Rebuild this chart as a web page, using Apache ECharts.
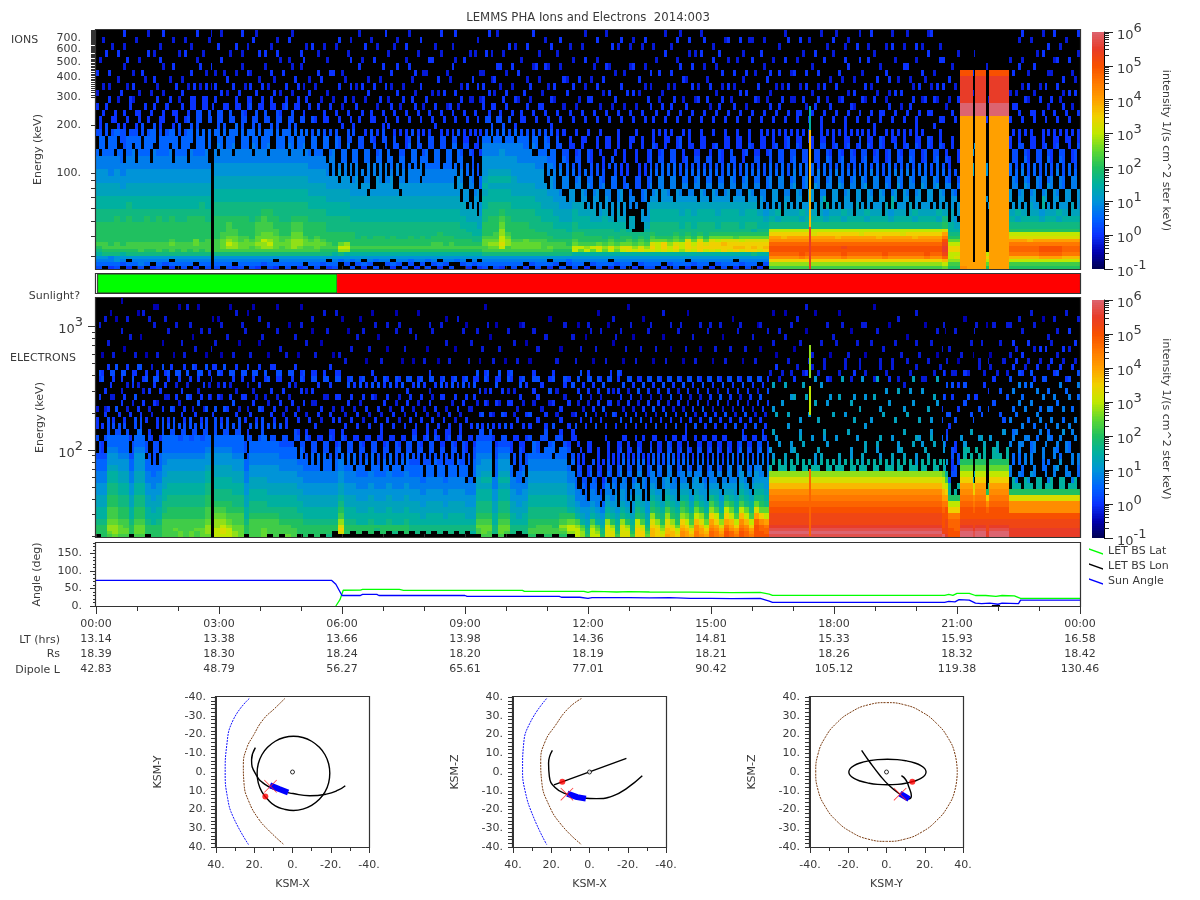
<!DOCTYPE html>
<html><head><meta charset="utf-8">
<style>html,body{margin:0;padding:0;background:#fff}#c{width:1200px;height:900px}</style>
<script src="https://cdn.jsdelivr.net/npm/echarts@6/dist/echarts.min.js"></script></head>
<body><div id="c"></div><script>
// Cell codes: '.' = empty, otherwise index in LEVELS; log10(intensity) = -1 + index/4. Strings run from low to high energy.
const LEVELS='0123456789abcdefghijklmnopqrs';
const ionsA=[
"5678abcdcccc cbbaa9988776.654 4.4.3..4.3....",".678bcddcccc cbbaa99887766.55 .44..3....4.3.","4677bcdccccc cbbaa9987776665. 4..4.3.4...3..","5688bcddcccc ccbaa9988776.664 44.3..3...4...",
".578acdccccc cbbaa988776.5554 .4..4...3..3.4","46.8bcddcccc ccbba9988776665. 4.44.3...4....",".678bcddcccc cbbaa998877.6654 .4.3.4.3....3.","5778bdddcccc cbbaa99887766.55 44..3..4.3....",
".678bcddcccc ccbaa9988776665. 4.4...3...4..3","4.78bcddcccc cbbaa998877.6665 .44.3.4...3...","5678bdddcccc ccbaa99887766.54 4..4.3...4.3..",".578bcddcccc cbbaa9988776665. 444.3...3....4",
"46.8bddedccc ccbaa998877.6664 .4.4..3.4...3.",".678bcddcccc cbbaa99887766.55 44.3.4....3...","5678bdddcccc cbbaa9988776665. 4.4.4.3...4.3.",".678bcddcccc ccbaa998877.6665 5444.3.4...3..",
"4.78bddeeccc ccbaa99887766.65 5544.4...3...4",".678bcddcccc ccbba9988776666. 5544.3..4.3...","5678bddddccc cbbaa998877.66.. 5544.4.3....3."];
const ionGap=["............ ................ 5.4..3..4....3"];
const ionsB=[
"5678bddddccc ccbbaa998877.665 55.4.4.3...4..",".678bdeeeddc ccbbaa9988776.65 554.4..3.4...3","5678bdfgfedd dcbbaa998877666. 554.3.4...3...","4.78bdffeedd ccbbaa998877.666 5.44.4.3...4..",
"5678bdeeddcc ccbbaa9988776.65 554.4...3.3..4",".678bdeeedcc ccbbaa998877666. 5444.3.4...3..","5678bddedccc cbbbaa998877.665 5.54.4.3....4.","4678bdefeedd dcbbaa9988776.65 554.4.3...4..3",
".578bdffgeed ddcbaa998877666. 5544.4..3.4...","5678bdfgfeed dccbaa998877.665 5.44.3.4...3..","46.8bdeeeedd ccbbaa9988776.65 554.4.3...4.3.",".678bddeddcc cbbbaa998877666. 544.3..4.3....",
"5678bdeeedcc cbbbaa998877.665 5.54.4...3..4.",".678bdfffeed dcbbaa9988776.65 554.3.4.3....3","4678bdeffeed dcbbaa998877666. 5.44.4..3.4...","5.78bddeedcc ccbbaa998877.66. 54.4.3...4.3..",
".678bddedccc cbbaa9988776.65. 5.4.4.3....4..","5678bdeeedcc cbbaa99887766.6. 4.4..3.4..3...",".578bcdedccc cbbaa9988776.65. 44.3..4....3..","46.8bcddcccb bbaa99887.76.65. 4.4.3..4.3....","5678acdccccb bbaa99887.7.6.5. .4.3...4...3.."];
const ionsC=[
"..68bfgecccb bbaa9988.76.5..4 4.3..4.3....4.",".578afgfcccb bbaa99887.6.65.. .4.4..3...3...","5.68acdccccb baa99887.76..5.4 4..3.4...4..3.",".578acdccbbb baa9988.7.6.5... 4.4..3..4....3",
"46.8acdcccbb baa99887..6.5.4. .4.3.4...3.4..",".578acdccbbb baa998.77.6..5.. 44..4.3.....3.","5.68acdcccbb baa9988.7.65.4.. 4.3..4...4.3..","..78acdcccbb baa99887.76..5.4 .4.4..3.4.....",
".578acdccbbb baa998877.6.5..4 4..3.4....3..4","46.8acdcccbb baa9988.76..5.4. .44..3.4...3..",".578acdccbbb baa998.77.65..4. 4.3.4...4...3.","5.78acdccbbb baa99887.6.54.4. .4.4.3...3.4..",
".568acdcccbb baa9988776.6.5.. 4..4..3.4....3","4.78acdccbbb baa9988776.65.4. .44.3..4..3...",".578acdcccbb baa99887.765..4. 4.3..4.3....4.","5.68acdccbbb baa99887766.5.4. .4.4...3.4....",
".578acddccbb baa99887766.5..4 4.4.3....4.3..","46.8acddcccb baa9988776.65.4. .4..3.4...3..4",".578acdcccbb baa99887766.5.4. 4.3.4..3......","5.78acddccbb baa9988776.6.54. .44...3.4..3..",
"..68acdccbbb baa9988.76.6.5.. 4.3.4....3...4",".578acdccbbb aa998.87.6.5.4.. .4.4.3...4....","46.8acdccbba a998.87.6..5.4.. 4..3.4....3..."];
const ionsD=[".578acdcbbaa a998.7.6.5.4..4. .4.3..4...3...","46.8acdcbbaa 998.8.6.5..4.4.. 4..3.4.3....3."];
const ionsE=["5678bddeedcc cbbaa9a98887765. 5.44.4.3..4...",".678bdefedcc ccbbaa9a988776.5 544.4.3...3..4","5678bdefeddc ccbbaa9a9887765. 5.4.3.4.4....3","4678bdghggff edcbaa9a988876.5 54.4.3..4.3...",".678bddffedc ccbbaa9a9887765. 5.4.4..3...4.."];
const ionsF=[
"5678bdeedccc cbbaa999888776.4 .4.4.3..4..3..",".678bdeedccc cbbaa9988877765. 44.3...4.3....","4.78bdeeeccc cbbaa9988877665. 4.4.4.3....4..",".578bdeedccc bbbaa9988877.65. .4.3.4..3....4","5678bdeedccb bbaa99888776.65. 4.4...3.4.3...",
".678bddddccb baa99988.7766.5. .44.3...4...3.","46.8bdedccbb baa9988.7766.5.4 4..4.3..3..4..",".578bcddcbbb aa99887.76.65.4. .4.3.4....3...","5.78bcddcbbb a99887.7.6.5..4. 4.3...4.3...4.",".568bcdccbba a9988.7.6.5.4... .4..4.3....3.."];
const ionsG=[
"5678aggedccb baa98.76.5.4..4. 4.3..4...3....",".678aegdcccb aa998.7.5.5.4... .4.3..4....3..","4.78agfdccbb aa98.7.6..5..4.. 4..4.3...4...3",".578aegdccbb a998.76.5.4..... .4.4..3.3.....","5678agheccbb a98.8.6.5..4.4.. 4.3..4...3..4.",
".678aefdcbbb aa98.7.5.4..4... .4..3.4.4....3","46.8aghedcbb a98.7.6..5..4... 4.3.4...3..4..",".578aefdcbba a9.87.6.5..4.4.. .4.4...3...3..","5678agheccbb a98.8.5.4.4..... 4.3..4.3....4.",".678ahhedcba 9..7.6..4...4... .4..4...3..3..",
"4.78agfdcbb. 9..7..5...4..4.. 4.3.4...4...3.",".578ahhedcb. .8..6.5.4...4... .4..3.4....3..","5678agfdcbba 988.7.5.4.4..... 4..4.3..3...4."];
const ionsH=[
"5678ahihedcb baa987.6.5.5.4.. 4.4..3.4...3..",".678agggecbb baa98.7.65.4..4. .4.3...4.3....","4.78ahiiecbb baa9887.6.5.4.4. 4.4.3.....4..3",".578aggfdcbb baa987.76.5..4.. .44..3.4...3..","5678ahihedcb baa98.7.6.5.4... 4..4.3...3..4.",
".678afggdcbb aa9987.65.4.5.4. .4.3..4.4....3","46.8ahiihdcb baa987.6.5..4.4. 4.4...3...3.4.",".578aghgecbb aa9987.6.5.4.... .4.3.4..4.3...","5678aiiihecb baa98.7.65.4.4.. 4..4.3....4..3",".678agihecbb baa987.6.5..4... .4.4..3.3...4.",
"4.78ahiihecb baa98.76.5.4..4. 4.3..4...4.3..",".578agiigecb aa9987.6.5.5.... .44.3...3.4...","5678aiijhecb baa987.65.4.4.4. 4..4.3.4....3.",".678ahiihecb baa98.7.6.5.4... .4.3.4...3..4.","46.8aijihdcb baa987.6.5..4.4. 4.4..3.4.3....",
".578ahjigecb aa9987.65.4.4... .4..4.3...3.4.","5678aiiihecb baa98.7.6..5.4.. 4.3.4..4....3.",".678bijiheca baa987.6.5.4.... .4.4...3.4..3.","4.78ahiihecb aa98.7.6.5.4.4.. 4..3.4....4...",".578aijihecb a987.76.5..4.4.. .4.3..4.3...3."];
const ionsI=[
"dfilnoonlkig ba98.87.6.5.4.4. 4.4.3..4.3....","dfilnoonlkig b9a8.87.65.5..4. .44..3.4...3..","dfilnoonljig ba9.87.76.5.4.4. 4..4.3...4...3","dfilnoonlkig ba98.7.65.5.5.4. .4.3.4.3....4.","dfilnoonlkig ba98.8.7.6.5.4.. 44.3...4.3....",
"dfimooonlkig b9a8.76.6.5.4.4. .4.4.3....3.4.","dfilnoonlkig ba988.7.6.5..4.. 4.3..4.4....3.","dfilnoonlkhg ba98.8.6.65.4... .44.3...3.4...","dfilnoonlkig ba9.87.7.5.5.4.4 4..4.3.4.....3","dfilnoonlkig b98a.7.6.6.5.4.. .4.3.4...4.3..",
"dfilnoonlkig ba98.87.65.4.4.. 4.4...3...3.4.","dfilnoonljig ba98.8.7.5.5..4. .4.3.4.4.....3","dfimoopnlkig b9a8.7.6.6.4.4.4 4..4..3..4.3..","dfilnoonlkig ba988.76.5.5.4.. .44.3...4...3.","dfilnoonlkig ba9.8.7.65.4..4. 4.3.4.3....4..",
"dfilnoonlkhg ba98.87.6.5.5.4. .4.4...3.4...3","dfilnoonlkig b9a8.8.6.6.5.4.. 4..3.4...4.3..","dfilnoonlkig ba98.7.7.5.4.4.4 .4.4.3....3..4","dfilnoonljig ba988.7.6.5.5... 44..3.4.3.....","dfimooonlkig ba9.87.65.4.4.4. .4.3...4...3..",
"dfilnoonlkig b98a.76.6.5..4.. 4.4.3.4....4.3","dfilnoonlkig ba98.8.7.5.5.4.. .4..4.3..3....","dfilnoonlkhg ba988.6.65.4.4.. 4.3.4...4..3..","dfilnoonlkig ba9.87.7.6.5..4. .44...3.4....3","dfilnoonljig b9a8.7.6.5.5.4.4 4..4.3...3.4..",
"dfilnoonlkig ba98.8.76.4.4.4. .4.3.4.4...3..","dfimooonlkig ba988.7.6.5.5.... 4.4..3...4..3","dfilnoonlkig ba98.87.5.5.4..4 .4.4.3.3.....4","dfilnoonlkig b9a8.8.6.6.5.4.. 4..3.4...4.3.."];
const ionsJ=["egjnpqqpomkh cb98.7.6.5.4.... 4.3..4...4...."];
const ionsK=["cdfggiigecba a9.8.7.5.4..4... .4.3..4.3.....","cdfhgiigecba 98.8.6.5..4..... 4..4.3....3..."];
const ionBarA=["lkkkkkkkkkkk kkkkkkkkkkkkkkkk kssqqqqo......","kkkkkkkkkkkk kkkkkkkkkkkkkkkk kssqqqqo......"];
const ionSlitA=["kk.......... ........9..8.... ....3..4..3..."];
const ionBarB=["kkkkkkkkkkkk kkkkkkkkkkkkkkkk kssqqqqo......","kkkkkkkkkkkk kkkkkkkkkkkkkkkk kssqqqqo......"];
const ionSlitB=["cegig....... ...8....8....... 4..3....3....."];
const ionBarC=["kkkkkkkkkkkk kkkkkkkkkkkkkkkk kssqqqqo......","kkkkkkkkkkkk kkkkkkkkkkkkkkkk kssqqqqo......","kkkkkkkkkkkk kkkkkkkkkkkkkkkk kssqqqqo......"];
const ionsL=[
"cdgjmnnmkhgc ba98.87.6.5.4.4. 4.4.3..4.3....","cdgjmnnmkhgc b9a8.7.6.5.5.4.. .44.3...4...3.","cdgjmnnmkhgc ba98.8.7.6.5..4. 4..4.3...3...4","cdgjmnnmjhgc ba9.87.65.4.4.4. .4.3.4.3....3.","cdgjmnnmkhgc ba988.7.6.5.4... 44..3...4.3...","cdgknoomkhgc b98a.76.5.5.4.4. .4.4.3....4..3",
"cdgknoomkhgc ba98.8.6.6.5..4. 4.3..4.3...4..","cdgknoomkhgc ba98.87.5.4.4.4. .4.4...3.3...4","cdgknoomkhgc b9a8.7.7.6.5.4.. 4..3.4...4.3..","cdgjmnnmkhgc ba988.6.5.5..4.. .44.3.4.....3.","cdgjmnnmkhgc ba9.8.7.6.4.4.4. 4.3.4..3.4....","cdgjmnnmkhgc ba98.87.65.5.4.. .4..4.3...3..4"];
const ionZones=[[0,2.8,ionsA],[2.8,2.88,ionGap],[2.88,5.9,ionsB],[5.9,9.17,ionsC],[9.17,9.41,ionsD],[9.41,10.12,ionsE],[10.12,11.6,ionsF],[11.6,13.5,ionsG],[13.5,16.42,ionsH],[16.42,20.63,ionsI],[20.63,20.78,ionsJ],[20.78,21.07,ionsK],[21.07,21.4,ionBarA],[21.4,21.44,ionSlitA],[21.44,21.71,ionBarB],[21.71,21.78,ionSlitB],[21.78,22.27,ionBarC],[22.27,24,ionsL]];
// [hour from, hour to, keV from, keV to, level]
const ionSpikes=[[17.4,17.44,25,46,'q'],[17.4,17.44,46,186,'j'],[17.4,17.44,186,265,'a']];

const elecA=[
".ccc baa9988776655.5.4 4.3.4..45. ......3....","cccc baa9988776654.5.4 .43..4.54. .2.....3...","deff eddccbbaa98876655 5.4.3.4.54 ...3....2..","efff eddccbbaa98876655 4.5.3..455 .3.....2...",
"deee dccbbaa9988766655 .4.4.3.45. .....3....2","deed dccbbaa9988766655 4.3.4.3.54 ..2....3...",".ccc baa9988776655.4.. .4.3..454. ....3......","deee dccbbaa9988876665 5.4.5.3.45 .3......2..",
"deee dccbbaa9988876665 54.4.3.4.5 ....2...3..",".ccc baa998877665.5.4. 4.3..4.54. .2.....3...","cccc aa998877665.5.4.. .3.4..45.3 ......3..2.","cccc baa99887766.5.4.4 4..3.4.54. .3.......2.",
"dddd dcbbaa99887766655 5.4.3.4.45 ...2...3...","dddd dccbbaa9988766655 4.5.3..454 .....3.....","dded dccbbaa9988766655 5.4.4.3.5. .2....3....","eedd dccbbaa9988766555 .4.3.4.45. ...3.....2.",
"dddd dccbbaa9988766655 4.4.5.3.54 .3.......3.","eedd dccbbaa9988766555 5.3.4..4.5 ....2.3....","dded dccbbaa9988766655 .4.5.3.454 ..3......2.","eeed dccbbaa9988766555 4.3.4.4.5. .....3.....","efff eddccbbaa98876655 5.5.4.3.45 .2...3....."];
const elecGap=[".... ................. .4..3..4.4 ..3....2..."];
const elecB=[
"gggf fedcbbaa998876655 5.5.4.3.54 ...3...2...","ghhg fedcbbaa998876655 4.5.3.4.45 .2....3....","gggf edccbbaa998876655 5.4.4.3.5. ....3....2.","ffee ddcbbaa9988766655 .4.5.3.454 .3......3..","eeee ddcbbaa9988766655 5.3.4..45. ...2..3....",
".ccc baa998877665.5.4. 4.3.4.3.54 .....3..2..","dddd dcbbaa998877665.5 .4.4.3.45. .3.......2.","dddd dcbbaa998877665.5 4.5.3.4.54 ...2...3...","eeed dcbbaa99887766655 5.4.3..45. ....3......",".ddd dcbaa9988877665.5 .4.3.4.5.4 .2....3....",
"dddd dcbaa9988877665.5 4.4.3..454 .....3...2.",".ddd cbbaa9988776655.5 .3.4.4.45. ..3........","eddd cbbaa9988776655.4 4.3.3.4.5. .3....2....","dddc cbbaa998877665.5. .4.4..3454 ....3......",".ccc cbaa99887766.5.4. 4.3..4.54. .2....3..2.",
"cccc baa998877665.5.4. .3.4.3.45. ...3.......",".ccc baa99887766.5.4.. 4..3.4.54. .....2.3...","cccc baa99887766.5.4.4 .4.3..454. .3.........",".ccc baa9988776.65.4.. 3.4.3..54. ...2....3..","bccc baa998877665.5.4. .4..3.45.4 .....3.....","..cc baa9988776.5.4.4. 4.3.4..54. .2......3.."];
const elecBlob=[".hih fdcba9988776.5.4. 4.3.4..54. .3.....2..."];
const elecC=[
".ccc baa99887766.5.4. 4.3.4..54. .3....2....","..cc baa9988776.65.4. .4.3.4.45. ...3.......",".ccc aa998877665.5.4. 4.4.3..54. .....3..2..","..cc aa99887766.5.4.. .3.4.4.45. .2....3....",".ccc baa9988776.65.4. 4.3..4.5.4 ...3.....2.",
"..bc aa998877665.5.4. .4.4.3.54. .....2.3...",".ccc aa99887766.5.4.4 4.3.4..45. .3.........","..cc baa9988776.65.4. .4.3.4.54. ...2...3...",".bcc aa998877665.5.4. 4.4.3..45. ......3..2.","..cc aa99887766.5.4.. .3.4.3.54. .2.....3..."];
const elecD=[
".ccc baa99887766.5.4. 4.3.4.4.5. ...3.......","..bb aa9988776655.5.4 .4.3.4.45. .2....3....",".bbb aa9988776655.5.4 4.4.3..54. .....3...2.","..bb a99887766.55.4.. .4.3.4.45. .3.........",".bbb aa9988776655.5.4 4.3.4.3.54 ...2...3...",
"..bb aa9988776.65.5.4 .4.4.3.45. ......3....",".bbb aa9988776655.4.. 4.3..4.54. .2.....3...","..bb a99887766.55.4.4 .4.3.4.45. ....3...2..",".bbb aa9988776655.5.4 4.4.3..54. .3.........","..bb aa9988776.65.4.. .3.4.4.45. ...2....3..",
".bbb aa9988776655.5.4 4.3.4..54. ......3....","..bb a9988776.65.4.4. .4.3.4.45. .3.....2...",".abb a9988776.6.5.4.. 4..3.4.54. ....3......"];
const elecE=[".dde dcbbaa9988776655 5.4.3.4.45 .2....3....","deee dcbbaa9a98876655 4.5.4.3.54 ...3......2","ddee dcbbaa9a98876655 5.4.3.4.45 .....2.3..."];
const elecF=[".bbb aa9988776.65.4.. 4.3.4..54. .3.....2..."];
const elecG=["deee dcbbaa9a9887655. 4.5.3.4.45 ...3.......",".dee dcbbaa9a9887655. 5.4.4.3.54 .2....3...."];
const elecH=[".bbb aa9988776.5.4.4. 4.3.4.3.45 ....3......","..bb a998877665.5.4.. .4.3.4.54. .3.....2...",".bbb aa998877.65.4.4. 4.4.3..45. ....2..3..."];
const elecI=[
"cddc cbbaa99887766.5. 4.5.3.4.54 .2....3....",".ddd cbbaa99887765.5. .4.3.4.45. ...3.......","cddd cbbaa998877665.5 4.4.3.5.4. .....3..2..",".ddc cbbaa9988776.65. 5.3.4.3.54 .3.........","cdef dcbaa998877665.4 .4.4.3.45. ...2...3...",".fgg eca9988776.5.4.4 4.3.4..54. .....3....."];
const elecSaw=[
"gggf da98776.5.4..4.. 5.4.3.4.5. .3.....2...","ffed a98776.5.4.4.... .4.3.5.4.5 ...3.......","cbba 98876.5.4...4... 4.5.3.4.54 .....2.3...",
"gggf da987766.5..4... .4.4.3.45. .2....3....","gfed a98776.5.4.4.... 5.3.4.4.5. ...3.....2.","cbba 9876.5.4.4...... .4.5.3.54. ......3....",
"hhhh fba98776.5.4.4.. 4.3.4.4.5. .3.....2...","hhgf ca9877.65.4...... .5.4.3.54. ...2...3...","dcbb a988.76.5.4.4... 4.4.3.4.45 .....3.....",
"hhhh fba98877.6.5.4.. .5.3.4.5.4 .2....3....","hhgf ca987.76.5.4.4.. 4.4.4.3.5. ...3......2","dcbb a98.87.6.5.4.... .5.3.4.45. .....2.3...",
"iiih gcba9887.6.5.4.. 4.4.3.5.4. .3.........","iihg dba98.77.6.4.4.. .5.4.3.54. ...3....2..","edcb a9887.6.5.4..... 4.3.4.4.5. ......3....",
"jjji hfcba98776.5.4.. .4.5.3.45. .2.....3...","iiih fcba987.6.5.4.4. 5.3.4.4.5. ...3.......","hgfe cba98.7.6.5.4... .4.4.3.54. .....2...3.",
"kjji hfdba9887.6.5.4. 4.5.3.4.5. .3.........","jjih fcba9877.6.5.4.. .4.3.5.45. ...2...3...","ihge cba98.76.5.4.4.. 5.4.4.3.5. ......3....",
"llkj ifdca98776.5.4.. .4.3.4.54. .2.....3...","kkji gecba987.6.5.4.4 4.5.3.4.5. ...3.....2.","jihf dca988.7.5.4.... .4.4.3.45. .....3.....",
"mmll jgeca98876.5.4.. 5.3.4.4.5. .3.........","lkkj hfca9887.6.5.4.. .4.5.3.54. ...2...3...","kjig eca98.76.5.4.4.. 4.4.3.4.5. ......3....",
"nnml kifdb98776.5.4.. .5.3.4.45. .2.....3...","mmlk igdba987.6.5.4.. 4.4.4.3.5. ...3.......","lkjh fca988.7.5.4.4.. .4.3.5.54. .....2.3...",
"oonm kigdb987.6.5.4.. 4.5.3.4.5. .3.........","nnlk jgeca9877.6.4... .4.3.4.45. ...3....2..","mlki gdba98.76.5.4... 5.3.4.4.5. ......3....",
"oonm ljgdba9887.6.5.4 .4.4.3.54. .2.....3...","nnml jgeba987.6.5.4.. 4.5.3.4.5. ...3.......","mlki gdba98.7.6.5.4.. .4.3.4.45. .....3.....",
"oooo nkheba98876.5.4. 5.3.4.3.5. .3.....2...","oonn liecba9877.6.5.4 .4.4.5.45. ...2...3...","onnm kgeba9887.6.5.4. 4.3.4.5.4. ......3...."];
const elecJ=[
"rsrq pponmljhfa.8...9. ..8...9.3. ...3....2..","rsrq pponmljhfa...8... .9.....3.4 .2...3.....","rsrq pponmljhfa9...... ...8..9.3. ....3...2..","rsrq pponmljhfa..8...8 .9..8...3. 3.....3....","rsrq pponmljhfa.9..... ....9..4.3 ..2....3...",
"rsrq pponmljhfa...9.8. 8.....9.3. ...3.......","rsrq pponmljhfa....... .8..9...4. 3....2...3.","rsrq pponmljhfa8...8.. ...9...8.3 .3......2..","rsrq pponmljhfa.9..... 9.....8.3. ...3.......","rsrq pponmljhfa...8.9. ...8...4.3 3.....3....",
"rsrq pponmljhfa....... .9..8..3.. .2..3......","rsrq pponmljhfa9...8.. ....9...3. ...3....2..","rsrq pponmljhfa....... .8.....9.3 3.....3....","rsrq pponmljhfa.8...9. ...9...3.. .3...2.....","rsrq pponmljhfa....8.. 9...8...4. ...3.......",
"rsrq pponmljhfa9...... ..9....8.3 3.....3....","rsrq pponmljhfa..9...8 ....8...3. .2....3....","rsrq pponmljhfa....... 8...9..3.. ...3.....2.","rsrq pponmljhfa.8.9... ..8....9.3 3....3.....","rsrq pponmljhfa....... .9...8..3. ..3........",
"rsrq pponmljhfa9...8.. ...8...4.3 3.....2....","rsrq pponmljhfa..8.... 9....9.3.. ...3...3...","rsrq pponmljhfa.9...9. ..8...3... .3.........","rsrq pponmljhfa....... .9...8..3. 3...2......","rsrq pponmljhfa8..9... ...8...9.3 ...3....3..",
"rsrq pponmljhfa...8... 9....8.3.. .3.........","rsrq pponmljhfa.9..... ..9....3.. 3.....2....","rsrq pponmljhfa...9.8. 8...9...3. ...3.......","rsrq pponmljhfa....... ...8...9.3 .2...3....."];
const elecK=["sppo oonmkjhgea..8.6.. 5.4.5...4. ..3...3....","qppp poomkigda8...5.4. .5..4.5.3. 3....2....."];
const elecL=["ooon nmigca.5.4.5.... 4.5..4.5.3 ...3.......","oonn nmigca..5.5.4... .5.4...4.3 .2....3...."];
const elecBarA=["ssrq poonmlkigeca.8... ...5..5.4. .3.....2...","ssrq poonmlkigeca...9. .5..5...3. ...3......."];
const elecSlitA=["rrqp ponmlih9......... 5...4..... .2...3....."];
const elecBarB=["ssrq poonmlkigeca..8.. ..5.4....3 3.....3....","ssrq poonmlkigeca.9... .5....4.3. ...3......."];
const elecSlitB=["qqpp ponlic.......... ...5..4... .3.....2..."];
const elecBarC=["ssrq poonmlkigeca..8.. ...5...4.3 .2....3....","ssrq poonmlkigeca9.... .5...5..3. ...3.......","ssrq poonmlkigeca...8. 5...5...3. 3.....3...."];
const elecM=[
"qqqp pollhca.7.6..7.6 .7.6..7.5. 4.3.4..3...","qqqp pollhca7..6.7..7 ..6.7..7.5 .4.3....3..","qqqp pollhca.6.7..7.. 7..7.6.6.4 3.4...3....","qqqp pollhca8..7.6.7. .6..7..6.5 .3..4....3.","qqqp pollhca.7...7.6. 6.7...7.4. 4..3...3...","qqqp pollhca..6.7...7 .7.6.7..5. .3.4....2..",
"qqqp pollhca7.6...7.6 6..7..6.5. 3..4.3.....","qqqp pollhca.7..7..6. .7.6.7...4 .4..3...3..","qqqp pollhca..8.6.7.. 7...6..7.5 4.3...3....","qqqp pollhca.7...7..8 .6.7..6.4. .3.4.....3.","qqqp pollhca7..7.6..7 7..6.7..5. 4..3..4....","qqqp pollhca.6.7...7. .7...6.7.5 .3..4...3.."];
const elecZones=[[0,2.8,elecA],[2.8,2.88,elecGap],[2.88,5.9,elecB],[5.9,6.05,elecBlob],[6.05,7.5,elecC],[7.5,9.27,elecD],[9.27,9.66,elecE],[9.66,9.8,elecF],[9.8,10.1,elecG],[10.1,10.54,elecH],[10.54,11.68,elecI],[11.68,16.42,elecSaw],[16.42,20.63,elecJ],[20.63,20.78,elecK],[20.78,21.07,elecL],[21.07,21.4,elecBarA],[21.4,21.44,elecSlitA],[21.44,21.71,elecBarB],[21.71,21.78,elecSlitB],[21.78,22.27,elecBarC],[22.27,24,elecM]];
const elecSpikes=[[17.4,17.44,20,70,'n'],[17.4,17.44,192,330,'g'],[17.4,17.44,380,710,'f']];

const sunlightEdges=[0,0.04,5.88,24];
const sunlightStates=['none','day','night'];

const hourLabels=['00:00','03:00','06:00','09:00','12:00','15:00','18:00','21:00','00:00'];
const ltHours=['13.14','13.38','13.66','13.98','14.36','14.81','15.33','15.93','16.58'];
const rsValues=['18.39','18.30','18.24','18.20','18.19','18.21','18.26','18.32','18.42'];
const dipoleL=['42.83','48.79','56.27','65.61','77.01','90.42','105.12','119.38','130.46'];

const latAngle=[[5.85,0],[5.95,18],[6.03,45],[6.45,45.5],[6.5,47.5],[7.4,47.5],[7.5,44.8],[10.4,44.8],[10.45,42],[11.9,42],[12,39],[12.1,42],[12.4,41],[12.7,40],[13,41],[13.5,40],[14.5,39.5],[15,39],[15.5,38.5],[16.2,39],[16.42,34],[16.5,30.5],[20.7,30.5],[20.8,33],[20.9,30.5],[21.0,36],[21.3,36],[21.45,30],[21.7,30],[21.95,27.6],[22.1,30],[22.4,29],[22.55,22],[24,22]];
const lonAngle=[[21.85,1],[22.05,1]];
const sunAngle=[[0,73],[5.75,73],[5.85,62],[6.0,30],[6.45,30],[6.5,33],[6.85,33],[6.9,30],[9,30],[9.05,27.6],[11.3,27.6],[11.35,25],[11.8,25],[12,22],[12.1,24],[13,24],[13.5,23],[14,24],[14.5,22],[15,22],[15.5,21],[16.2,22],[16.42,14],[16.5,10.5],[20.7,10.5],[20.8,13],[20.95,12],[21.05,18],[21.3,17],[21.45,8],[21.6,6.7],[21.8,8],[22,5],[22.1,8],[22.5,7],[22.55,17],[24,17]];

const xyBow=[[22.6,-39.2],[30.9,-28],[34.4,-14],[35.2,0],[34,13.5],[31,24],[23,38.7]];
const xyPause=[[4,-39.2],[9.2,-34],[15.3,-28],[20.5,-19.4],[24,-12.5],[25.7,-3.8],[25.3,6.6],[23,15.3],[17.9,24.8],[11.8,31.8],[4.5,38.7]];
const xyOrbit=[[18.5,.7],[17.9,5.8],[16,10.6],[12.9,14.7],[9,18.1],[4.4,19.8],[-.5,20.5],[-5.4,19.8],[-10,17.8],[-13.9,14.7],[-17,10.6],[-18.9,5.8],[-19.5,.7],[-18.9,-4.4],[-17,-9.2],[-13.9,-13.3],[-10,-16.4],[-5.4,-18.4],[-.5,-19.1],[4.4,-18.4],[9,-16.4],[12.9,-13.3],[16,-9.2],[17.9,-4.4],[18.5,.7]];
const xyTrack=[[19.4,-13],[21.4,-6.4],[19.6,.5],[14.4,6.6],[7.5,9.7],[-.3,11.5],[-9,12.7],[-17.7,11.8],[-23.8,9.7],[-27.6,7.3]];
const xyToday=[[11.8,7.1],[7,9.1],[2.3,10.9]];
const xyCross=[[11.5,7.6]], xyDot=[[14.2,13]];
const xzBow=[[22.4,39.2],[31,26.4],[34.5,14.2],[35,2],[33.7,-10],[29.3,-24],[22.4,-38.7]];
const xzPause=[[4.2,39.2],[11,34],[18,24.6],[23.3,16],[25.5,5.6],[25,-4.9],[21.5,-17],[14.6,-28.3],[4.2,-38.7]];
const xzOrbit=[[-19.3,7.3],[18.6,-6.9]];
const xzTrack=[[19.4,11.5],[21.4,4.7],[21,-2.3],[18,-8.3],[12,-11.8],[3.3,-13.9],[-3.6,-14.2],[-12.3,-12.7],[-20,-8.3],[-27.6,-2]];
const xzToday=[[11.6,-11.5],[6.5,-13.4],[1.9,-14.2]];
const xzCross=[[11.8,-11.8]], xzDot=[[14.2,-5.2]];
const yzPause=[[37,0],[35.8,9.6],[32,18.5],[26.1,26],[18.5,32],[9.6,35.8],[0,37],[-9.6,35.8],[-18.5,32],[-26.2,26],[-32,18.5],[-35.8,9.6],[-37,0],[-35.8,-9.6],[-32,-18.5],[-26.2,-26],[-18.5,-32],[-9.6,-35.8],[0,-37],[9.6,-35.8],[18.5,-32],[26.1,-26],[32,-18.5],[35.8,-9.6],[37,0]];
const yzOrbit=[[20.7,0],[20,1.8],[18,3.4],[14.8,4.8],[10.6,5.9],[5.7,6.6],[.5,6.8],[-4.7,6.6],[-9.6,5.9],[-13.8,4.8],[-17,3.4],[-19,1.8],[-19.7,0],[-19,-1.8],[-17,-3.4],[-13.8,-4.8],[-9.6,-5.9],[-4.7,-6.6],[.5,-6.8],[5.7,-6.6],[10.6,-5.9],[14.8,-4.8],[18,-3.4],[20,-1.8],[20.7,0]];
const yzTrack=[[-13,11.5],[-8.7,5.2],[-3.5,-1.7],[1.7,-7.5],[7,-11.8],[11.3,-14.4],[13,-12.7],[11.8,-8.3],[10,-4],[7.8,-1.9]];
const yzToday=[[7,-11.5],[9.5,-13],[11.8,-14.4]];
const yzCross=[[7.1,-11.8]], yzDot=[[13.5,-5.2]];
const origin=[[0,0]];

const FONT='"DejaVu Sans"', INK='#3a3a3a';
const STOPS=[[-1,[0,0,80]],[-.5,[0,0,176]],[0,[10,50,255]],[.5,[0,100,255]],[1,[0,148,216]],[1.5,[0,176,160]],[2,[32,192,96]],[2.5,[96,216,48]],[3,[192,232,0]],[3.5,[240,208,0]],[4,[255,160,0]],[4.5,[255,120,0]],[5,[248,80,0]],[5.5,[232,60,40]],[6,[220,100,112]]];
function logColor(v){
  for(let i=1;i<STOPS.length;i++){ if(v<=STOPS[i][0]){const a=STOPS[i-1],b=STOPS[i],t=(v-a[0])/(b[0]-a[0]);
    return 'rgb('+a[1].map((c,k)=>Math.round(c+(b[1][k]-c)*t)).join(',')+')';}}
  return 'rgb(220,100,112)';
}
const codeLog=ch=>-1+LEVELS.indexOf(ch)/4;

// energy bin edges in log10(keV)
function edges(bottom,fine,fineStep,coarse,coarseStep){const e=[bottom];for(let i=0;i<fine;i++)e.push(e[e.length-1]+fineStep);for(let i=0;i<coarse;i++)e.push(e[e.length-1]+coarseStep);return e;}
const ionEdges=edges(1.396,12,.02096,30,.0417);
const elecEdges=edges(1.295,4,.0243,38,.0484);
// Sparse counts occupy half a time bin so that they read as the thin dashes of the original.
function cells(zones,edge,spikes,base,thin){
  const out=[];let col=0;
  zones.forEach(([from,to,cols])=>{const w=(to-from)/cols.length;
    cols.forEach((txt,i)=>{const s=txt.replace(/ /g,'');col++;
      const t0=from+i*w,t1=t0+w;
      for(let r=0;r<s.length&&r<edge.length-1;r++){
        const ch=s[r],below=s[r-1],above=s[r+1],g=Math.floor(r/2);
        const half=((col*(g%3+1)+g)%2)*w/2;
        if(ch==='.'){
          if(r>=base&&r<thin&&below&&below!=='.') out.push([t0+half,t0+half+w/2,edge[r],edge[r+1],codeLog(below)]);
          continue;
        }
        const v=codeLog(ch);
        const narrow=v<1.75&&(r>=thin||(r>=base&&(below==='.'||above==='.')));
        if(narrow) out.push([t0+half,t0+half+w/2,edge[r],edge[r+1],v]);
        else out.push([t0,t1,edge[r],edge[r+1],v]);
      }});});
  spikes.forEach(p=>out.push([p[0],p[1],Math.log10(p[2]),Math.log10(p[3]),codeLog(p[4])]));
  return out;
}
function renderCell(params,api){
  const a=api.coord([api.value(0),api.value(2)]),b=api.coord([api.value(1),api.value(3)]);
  const x=Math.round(a[0]),y=Math.round(b[1]);
  return {type:'rect',silent:true,shape:{x,y,width:Math.max(1,Math.round(b[0])-x),height:Math.max(1,Math.round(a[1])-y)},style:{fill:logColor(api.value(4))}};
}
const grid=[],xAxis=[],yAxis=[],series=[];
const txt={color:INK,fontFamily:FONT,fontSize:11};
const sup=(b,e)=>`{b|${b}}{s|${e}}`;
const rich={b:{fontFamily:FONT,fontSize:13,color:INK,lineHeight:20,verticalAlign:'bottom'},s:{fontFamily:FONT,fontSize:13,color:INK,lineHeight:20,verticalAlign:'top'}};
const offZero={show:false,onZero:false};
const lineOn=c=>({show:true,onZero:false,lineStyle:{color:c}});
function addGrid(g){grid.push(Object.assign({containLabel:false},g));return grid.length-1;}
function hoursAxis(gi){xAxis.push({type:'value',gridIndex:gi,min:0,max:24,interval:1,axisLine:offZero,axisLabel:{show:false},splitLine:{show:false},axisTick:{inside:true,length:3,lineStyle:{color:'#333'}}});return xAxis.length-1;}
function yAx(o){yAxis.push(Object.assign({type:'value',position:'left',splitLine:{show:false},axisLine:offZero},o));return yAxis.length-1;}
function cellSeries(xi,yi,data){series.push({type:'custom',xAxisIndex:xi,yAxisIndex:yi,data,renderItem:renderCell,encode:{x:[0,1],y:[2,3]},progressive:0,animation:false,clip:true,silent:true});}
const tenTo=(from,to,step)=>{const o=[];for(let k=from;k<=to;k+=step)o.push(Math.log10(k));return o;};
const allLabels={hideOverlap:false,showMinLabel:true,showMaxLabel:true};

// ions
let g=addGrid({left:96,top:30,width:984,height:239,show:true,backgroundColor:'#000',borderWidth:0});
let xi=hoursAxis(g);
const ionTop=ionEdges[ionEdges.length-1];
let yi=yAx({gridIndex:g,min:ionEdges[0],max:ionTop,name:'Energy (keV)',nameLocation:'middle',nameGap:52,nameTextStyle:txt,
  axisTick:{length:5,lineStyle:{color:'#333'},customValues:[...tenTo(30,100,10),Math.log10(200),...tenTo(300,790,10)]},
  axisLabel:Object.assign({},txt,allLabels,{margin:15,customValues:[...tenTo(100,700,100),ionTop],formatter:v=>v===ionTop?'':Math.round(Math.pow(10,v))+'.'})});
cellSeries(xi,yi,cells(ionZones,ionEdges,ionSpikes,12,27));

// sunlight
g=addGrid({left:96,top:274,width:984,height:19,show:true,backgroundColor:'#fff',borderWidth:0});
xi=hoursAxis(g);
yi=yAx({gridIndex:g,min:0,max:1,show:false});
const sunColor={none:'#ffffff',day:'#00ff00',night:'#ff0000'};
series.push({type:'custom',xAxisIndex:xi,yAxisIndex:yi,animation:false,silent:true,encode:{x:[0,1]},
  data:sunlightStates.map((s,i)=>[sunlightEdges[i],sunlightEdges[i+1],i]),
  renderItem:(p,api)=>{const a=api.coord([api.value(0),0]),b=api.coord([api.value(1),1]);
    return {type:'rect',shape:{x:a[0],y:b[1],width:b[0]-a[0],height:a[1]-b[1]},style:{fill:sunColor[sunlightStates[api.value(2)]],stroke:api.value(2)===1?'#333':null,lineWidth:1}};}});

// electrons
g=addGrid({left:96,top:298,width:984,height:239,show:true,backgroundColor:'#000',borderWidth:0});
xi=hoursAxis(g);
const eMin=elecEdges[0],eMax=elecEdges[elecEdges.length-1];
yi=yAx({gridIndex:g,min:eMin,max:eMax,name:'Energy (keV)',nameLocation:'middle',nameGap:50,nameTextStyle:txt,
  axisTick:{length:8,lineStyle:{color:'#333'},customValues:[2,3]},
  axisLabel:Object.assign({},allLabels,{margin:13,customValues:[2,3],formatter:v=>sup('10',Math.round(v)),rich})});
yAx({gridIndex:g,min:eMin,max:eMax,axisLabel:{show:false},axisTick:{length:4,lineStyle:{color:'#333'},customValues:[...tenTo(20,90,10),...tenTo(200,900,100)]}});
cellSeries(xi,yi,cells(elecZones,elecEdges,elecSpikes,4,19));

// angles
g=addGrid({left:96,top:543,width:984,height:63,show:true,backgroundColor:'#fff',borderWidth:0});
xAxis.push({type:'value',gridIndex:g,min:0,max:24,interval:3,splitLine:{show:false},axisLine:lineOn('#333'),
  axisTick:{length:8,lineStyle:{color:'#333'}},minorTick:{show:true,splitNumber:3,length:5,lineStyle:{color:'#333'}},minorSplitLine:{show:false},
  axisLabel:Object.assign({},txt,allLabels,{margin:11,lineHeight:15,formatter:v=>{const i=Math.round(v/3);return [hourLabels[i],ltHours[i],rsValues[i],dipoleL[i]].join('\n');}})});
xi=xAxis.length-1;
yi=yAx({gridIndex:g,min:0,max:180,name:'Angle (deg)',nameLocation:'middle',nameGap:53,nameTextStyle:txt,
  axisTick:{length:6,lineStyle:{color:'#333'},customValues:[0,50,100,150]},
  axisLabel:Object.assign({},txt,allLabels,{margin:14,customValues:[0,50,100,150],formatter:v=>v+'.'})});
yAx({gridIndex:g,min:0,max:180,axisLabel:{show:false},axisTick:{length:3,lineStyle:{color:'#333'},customValues:[10,20,30,40,60,70,80,90,110,120,130,140,160,170,180]}});
[['LET BS Lat',latAngle,'#00ff00'],['LET BS Lon',lonAngle,'#000000'],['Sun Angle',sunAngle,'#0000ff']].forEach(([name,data,color])=>{
  series.push({type:'line',name,xAxisIndex:xi,yAxisIndex:yi,data,symbol:'none',itemStyle:{color},lineStyle:{color,width:1.3},animation:false,silent:true,clip:true});});

// colour bars
const rampStep=.05, ramp=[];for(let k=0;k<140;k++)ramp.push(-1+k*rampStep);
function colourBar(top,height){
  const gi=addGrid({left:1092,top,width:12,height,show:false});
  xAxis.push({type:'value',gridIndex:gi,min:0,max:1,show:false,axisLine:offZero});const xx=xAxis.length-1;
  const minors=[];for(let d=-1;d<6;d++)for(let k=2;k<10;k++)minors.push(d+Math.log10(k));
  const yy=yAx({gridIndex:gi,position:'right',min:-1,max:6,name:'intensity 1/(s cm^2 ster keV)',nameLocation:'middle',nameRotate:-90,nameGap:56,nameTextStyle:txt,
    axisLine:lineOn('#000'),axisTick:{length:9,lineStyle:{color:'#222'},customValues:[-1,0,1,2,3,4,5,6]},
    axisLabel:Object.assign({},allLabels,{margin:13,customValues:[-1,0,1,2,3,4,5,6],formatter:v=>sup('10',Math.round(v)),rich})});
  yAx({gridIndex:gi,position:'right',min:-1,max:6,axisLabel:{show:false},axisTick:{length:5,lineStyle:{color:'#222'},customValues:minors}});
  series.push({type:'custom',xAxisIndex:xx,yAxisIndex:yy,data:ramp.map(v=>[0,1,v,v+rampStep,v+rampStep/2]),encode:{x:[0,1],y:[2,3]},renderItem:renderCell,animation:false,silent:true});
}
colourBar(32,237);colourBar(300,238);

// KSM panels
function orbitPanel(left,xName,yName,xInv,yInv,sets){
  const gi=addGrid({left,top:697,width:153,height:150,show:true,backgroundColor:'#fff',borderWidth:0});
  xAxis.push({type:'value',gridIndex:gi,min:-40,max:40,interval:20,inverse:xInv,name:xName,nameLocation:'middle',nameGap:32,nameTextStyle:txt,splitLine:{show:false},minorSplitLine:{show:false},
    axisLine:lineOn('#333'),axisTick:{length:6,lineStyle:{color:'#333'}},minorTick:{show:true,splitNumber:2,length:4,lineStyle:{color:'#333'}},
    axisLabel:Object.assign({},txt,allLabels,{margin:13,formatter:v=>v+'.'})});
  const xx=xAxis.length-1;
  const yy=yAx({gridIndex:gi,min:-40,max:40,interval:10,inverse:yInv,name:yName,nameLocation:'middle',nameGap:52,nameTextStyle:txt,axisLine:lineOn('#333'),
    axisTick:{length:5,lineStyle:{color:'#333'}},minorTick:{show:true,splitNumber:5,length:5,lineStyle:{color:'#333'}},minorSplitLine:{show:false},
    axisLabel:Object.assign({},txt,allLabels,{margin:10,formatter:v=>v+'.'})});
  const base={xAxisIndex:xx,yAxisIndex:yy,animation:false,silent:true};
  const ln=(data,color,width,type,smooth)=>series.push(Object.assign({type:'line',data,symbol:'none',smooth:!!smooth,lineStyle:{color,width,type:type||'solid'}},base));
  if(sets.bow) ln(sets.bow,'#1414ff',1,[2,1],true);
  ln(sets.pause,'#7a3c12',1,[2,1],true);
  ln(sets.orbit,'#000',1.4,'solid',sets.orbit.length>2);
  ln(sets.track,'#000',1.4,'solid',true);
  ln(sets.today,'#0000ff',6);
  series.push(Object.assign({type:'scatter',data:origin,symbol:'circle',symbolSize:4,itemStyle:{color:'#fff',borderColor:'#000',borderWidth:1},z:6},base));
  series.push(Object.assign({type:'scatter',data:sets.dot,symbol:'circle',symbolSize:6,itemStyle:{color:'#ff0000'},z:6},base));
  series.push(Object.assign({type:'scatter',data:sets.cross,symbol:'path://M1,0L11,10L21,0L22,1L12,11L22,21L21,22L11,12L1,22L0,21L10,11L0,1Z',symbolSize:13,itemStyle:{color:'#ff2020',opacity:.85},z:7},base));
}
orbitPanel(216,'KSM-X','KSM-Y',true,true,{bow:xyBow,pause:xyPause,orbit:xyOrbit,track:xyTrack,today:xyToday,cross:xyCross,dot:xyDot});
orbitPanel(513,'KSM-X','KSM-Z',true,false,{bow:xzBow,pause:xzPause,orbit:xzOrbit,track:xzTrack,today:xzToday,cross:xzCross,dot:xzDot});
orbitPanel(810,'KSM-Y','KSM-Z',false,false,{pause:yzPause,orbit:yzOrbit,track:yzTrack,today:yzToday,cross:yzCross,dot:yzDot});

const label=(x,y,text,align,size)=>({type:'text',x,y,z:50,style:{text,fill:INK,font:(size||11)+'px '+FONT,textAlign:align||'left',textVerticalAlign:'middle'}});
const frame=(x,y,w,h)=>({type:'rect',z:60,silent:true,shape:{x:x-.5,y:y-.5,width:w+1,height:h+1},style:{fill:null,stroke:'#333',lineWidth:1.2}});
const graphic=[
  label(588,18,'LEMMS PHA Ions and Electrons  2014:003','center',11.7),
  label(11,40,'IONS'),label(10,358,'ELECTRONS'),label(80,296,'Sunlight?','right'),
  label(60,640,'LT (hrs)','right'),label(60,654.5,'Rs','right'),label(60,670,'Dipole L','right'),
  frame(96,30,984,239),frame(96,274,984,19),frame(96,298,984,239),frame(96,543,984,63),
  frame(216,697,153,150),frame(513,697,153,150),frame(810,697,153,150)
];
const chart=echarts.init(document.getElementById('c'),null,{renderer:'canvas'});
chart.setOption({animation:false,backgroundColor:'#fff',grid,xAxis,yAxis,series,graphic,
  legend:{orient:'vertical',left:1089,top:546,itemWidth:14,itemHeight:7,itemGap:4,selectedMode:false,textStyle:txt,padding:0,
    data:[{name:'LET BS Lat',icon:'path://M0,0L14,5L14,6.5L0,1.5Z'},{name:'LET BS Lon',icon:'path://M0,0L14,5L14,6.5L0,1.5Z'},{name:'Sun Angle',icon:'path://M0,0L14,5L14,6.5L0,1.5Z'}]}});
</script></body></html>
